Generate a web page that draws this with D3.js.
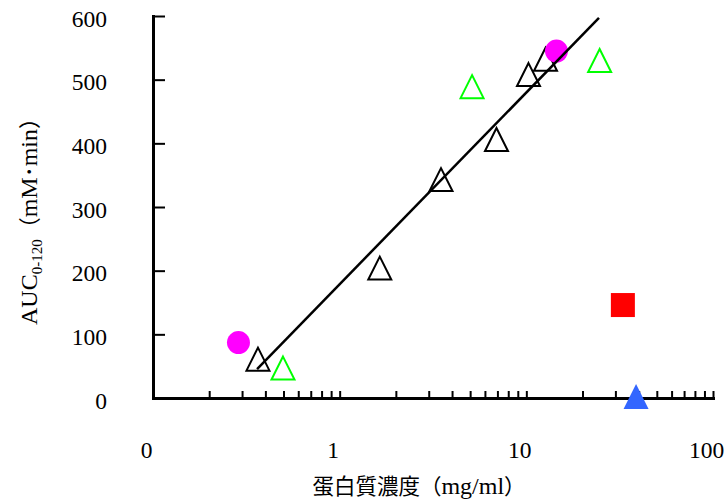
<!DOCTYPE html>
<html>
<head>
<meta charset="utf-8">
<script src="https://cdn.jsdelivr.net/npm/d3@7"></script>
<style>
  body { margin: 0; background: #fff; }
  svg { display: block; }
</style>
</head>
<body>
<div id="chart"></div>
<script>
// ---- data ----
const blackX = [0.365, 1.64, 3.49, 6.92, 10.27, 12.67];
const blackY = [61, 204, 343, 406, 508, 532];
const greenX = [0.497, 5.12, 24.7];
const greenY = [47, 489, 530];
const magentaX = [0.287, 14.5];
const magentaY = [87, 545];
const redX = [32.9];
const redY = [146];
const blueX = [38.7];
const blueY = [2.4];
const trendX = [0.361, 24.5];
const trendY = [45.5, 597];

const yTicks = [0, 100, 200, 300, 400, 500, 600];
const xDecades = [0.1, 1, 10, 100];
const xTickLabels = ["0", "1", "10", "100"];

const W = 724, H = 499;
const serif = "'Times New Roman', 'Liberation Serif', 'Noto Serif CJK JP', 'Noto Sans CJK JP', serif";
const cjk = "'Noto Sans CJK JP', sans-serif";

const svg = d3.select("#chart").append("svg")
  .attr("width", W).attr("height", H)
  .style("background", "#fff");

// scales
const x = d3.scaleLog().domain([0.1, 100]).range([153, 713]);
const y = d3.scaleLinear().domain([0, 600]).range([398, 16]);

// ---- axes ----
const yAxis = svg.append("g")
  .attr("transform", `translate(${x(0.1)},0)`)
  .call(d3.axisLeft(y).tickValues(yTicks).tickSizeInner(-12).tickSizeOuter(0).tickPadding(46));

const xAxis = svg.append("g")
  .attr("transform", `translate(0,${y(0)})`)
  .call(d3.axisBottom(x)
    .tickValues(x.ticks())
    .tickSizeInner(-7).tickSizeOuter(0).tickPadding(43)
    .tickFormat(d => {
      const i = xDecades.findIndex(v => Math.abs(v - d) < 1e-9);
      return i >= 0 ? xTickLabels[i] : "";
    }));

[yAxis, xAxis].forEach(g => {
  g.select(".domain").attr("stroke", "#000").attr("stroke-width", 3).attr("stroke-linecap", "square");
  g.selectAll(".tick line").attr("stroke", "#000").attr("stroke-width", 2);
  g.selectAll("text").attr("font-family", serif).attr("font-size", 23.5).attr("fill", "#000");
});
yAxis.selectAll("text").attr("dy", 10);
xAxis.selectAll("text").attr("dx", -7);

// ---- markers ----
const triangle = {
  draw(ctx, size) {
    const s = Math.sqrt(size);
    ctx.moveTo(0, -s / 2);
    ctx.lineTo(s / 2, s / 2);
    ctx.lineTo(-s / 2, s / 2);
    ctx.closePath();
  }
};
const zip = (xs, ys) => xs.map((v, i) => [v, ys[i]]);

svg.append("g").selectAll("path")
  .data(zip(blackX, blackY))
  .join("path")
  .attr("d", d3.symbol().type(triangle).size(23 * 23))
  .attr("transform", d => `translate(${x(d[0])},${y(d[1])})`)
  .attr("fill", "none").attr("stroke", "#000").attr("stroke-width", 2);

svg.append("g").selectAll("path")
  .data(zip(greenX, greenY))
  .join("path")
  .attr("d", d3.symbol().type(triangle).size(23 * 23))
  .attr("transform", d => `translate(${x(d[0])},${y(d[1])})`)
  .attr("fill", "none").attr("stroke", "#00ff00").attr("stroke-width", 2);

svg.append("g").selectAll("circle")
  .data(zip(magentaX, magentaY))
  .join("circle")
  .attr("cx", d => x(d[0])).attr("cy", d => y(d[1])).attr("r", 11.5)
  .attr("fill", "#ff00ff");

svg.append("g").selectAll("rect")
  .data(zip(redX, redY))
  .join("rect")
  .attr("x", d => x(d[0]) - 12).attr("y", d => y(d[1]) - 12)
  .attr("width", 24).attr("height", 24)
  .attr("fill", "#ff0000");

svg.append("g").selectAll("path")
  .data(zip(blueX, blueY))
  .join("path")
  .attr("d", d3.symbol().type(triangle).size(25 * 25))
  .attr("transform", d => `translate(${x(d[0])},${y(d[1])})`)
  .attr("fill", "#3366ff");

// ---- trend line ----
svg.append("path")
  .datum(zip(trendX, trendY))
  .attr("fill", "none")
  .attr("stroke", "#000")
  .attr("stroke-width", 2.5)
  .attr("d", d3.line().x(d => x(d[0])).y(d => y(d[1])));

// ---- titles ----
const yTitle = svg.append("text")
  .attr("transform", "translate(37,216) rotate(-90)")
  .attr("text-anchor", "middle")
  .attr("font-family", serif)
  .attr("font-size", 24)
  .attr("fill", "#000");
yTitle.append("tspan").text("AUC");
yTitle.append("tspan").attr("font-size", 15).attr("dy", 5).text("0-120");
yTitle.append("tspan").attr("dy", -5).attr("font-family", cjk).attr("font-size", 22).text("（");
yTitle.append("tspan").text("mM");
yTitle.append("tspan").attr("font-family", cjk).attr("font-size", 22).text("･");
yTitle.append("tspan").text("min");
yTitle.append("tspan").attr("font-family", cjk).attr("font-size", 22).text("）");

const xTitle = svg.append("text")
  .attr("x", 419).attr("y", 494)
  .attr("text-anchor", "middle")
  .attr("font-family", serif)
  .attr("font-size", 24)
  .attr("fill", "#000");
xTitle.append("tspan").attr("font-family", cjk).attr("font-size", 21.5).text("蛋白質濃度（");
xTitle.append("tspan").text("mg/ml");
xTitle.append("tspan").attr("font-family", cjk).attr("font-size", 21.5).text("）");
</script>
</body>
</html>
